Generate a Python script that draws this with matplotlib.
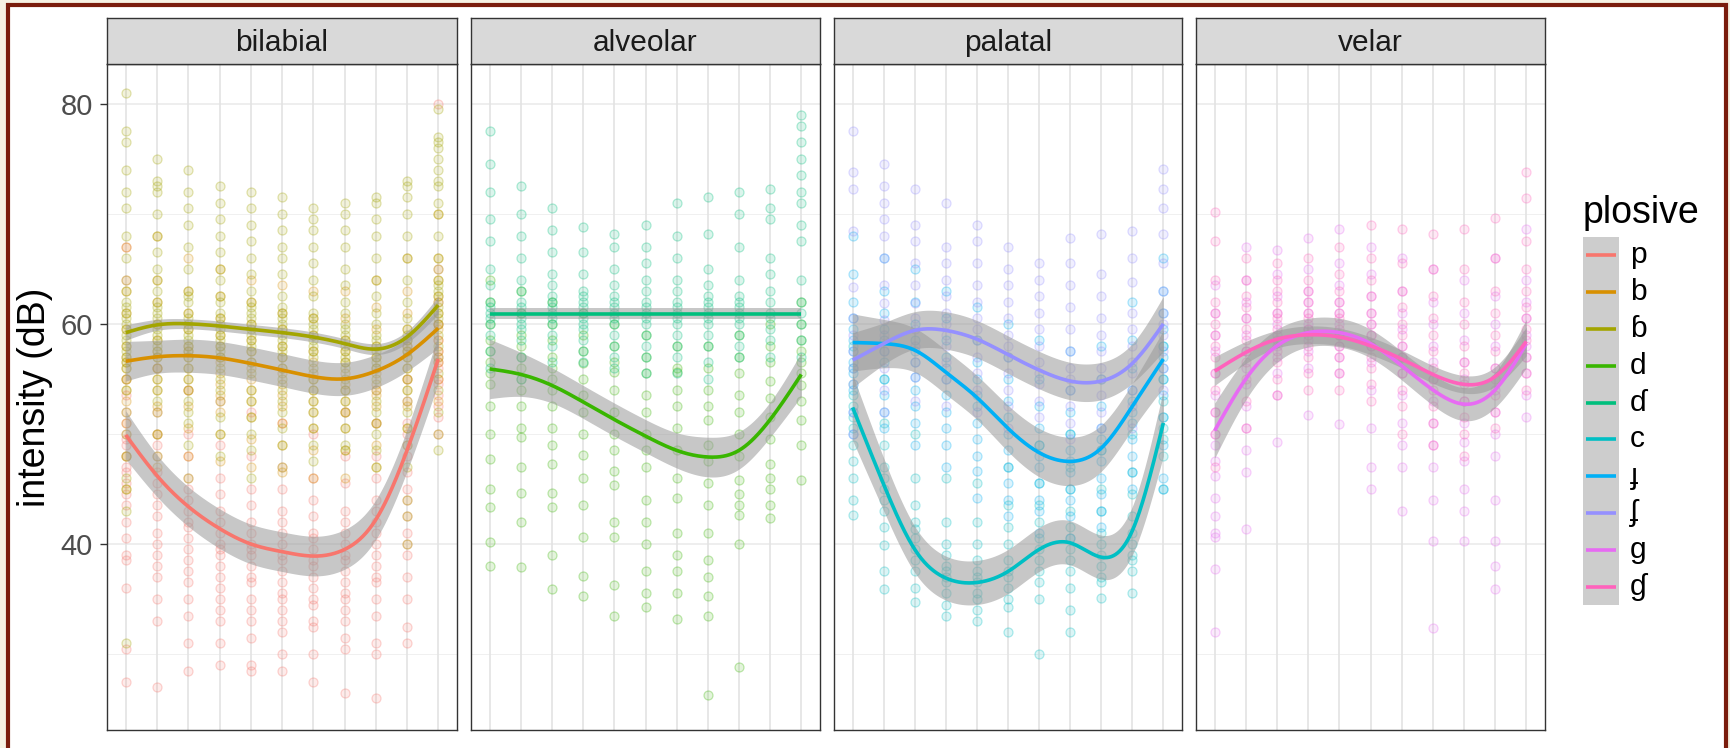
import numpy as np
import matplotlib
matplotlib.use('Agg')
import matplotlib.pyplot as plt
from matplotlib.colors import to_rgba
from matplotlib.patches import Rectangle

plt.rcParams['font.family'] = ['Liberation Sans', 'DejaVu Sans']

# 11 measurement points along the closure, one column of dots per point
positions = np.arange(11)
places = ['bilabial', 'alveolar', 'palatal', 'velar']
plosives = ['p', 'b', 'ɓ', 'd', 'ɗ', 'c', 'ɟ', 'ʄ', 'g', 'ɠ']
colors = ['#F8766D', '#D89000', '#A3A500', '#39B600', '#00BF7D',
          '#00BFC4', '#00B0F6', '#9590FF', '#E76BF3', '#FF62BC']
panel_of = {'p': 0, 'b': 0, 'ɓ': 0, 'd': 1, 'ɗ': 1,
            'c': 2, 'ɟ': 2, 'ʄ': 2, 'g': 3, 'ɠ': 3}

fit_p = [49.9, 46.2, 43.4, 41.4, 40.0, 39.3, 38.9, 39.5, 42.2, 48.5, 56.8]
fit_b = [56.6, 57.0, 57.1, 56.9, 56.4, 55.8, 55.2, 55.0, 55.7, 57.2, 59.6]
fit_bb = [59.2, 59.9, 60.0, 59.8, 59.5, 59.2, 58.8, 58.2, 57.7, 58.8, 61.7]
fit_d = [55.9, 55.4, 54.4, 52.9, 51.3, 49.8, 48.5, 47.9, 48.5, 51.3, 55.4]
fit_dd = [60.9] * 11
fit_c = [52.4, 45.4, 39.5, 36.9, 36.5, 37.5, 39.5, 40.1, 38.8, 41.2, 51.0]
fit_j = [58.3, 58.2, 57.6, 55.6, 53.3, 50.5, 48.3, 47.5, 48.7, 52.5, 56.8]
fit_jj = [56.7, 58.2, 59.4, 59.4, 58.6, 57.2, 55.8, 54.8, 54.8, 56.4, 60.0]
fit_g = [50.3, 55.0, 58.0, 59.2, 59.2, 58.2, 56.2, 54.0, 52.7, 54.0, 58.2]
fit_gg = [55.7, 57.4, 58.6, 59.0, 58.8, 58.0, 56.8, 55.4, 54.5, 55.2, 58.4]

se_p = [2.2, 1.9, 1.8, 1.8, 1.8, 1.8, 1.8, 1.8, 1.8, 1.9, 2.2]
se_b = [1.8, 1.5, 1.5, 1.5, 1.5, 1.5, 1.5, 1.5, 1.5, 1.5, 1.8]
se_bb = [0.7, 0.5, 0.45, 0.45, 0.45, 0.45, 0.45, 0.45, 0.5, 0.55, 0.8]
se_d = [2.7, 2.0, 1.6, 1.5, 1.5, 1.5, 1.6, 1.8, 1.7, 1.6, 2.0]
se_dd = [0.5] * 11
se_c = [3.0, 2.4, 2.1, 2.0, 2.0, 2.0, 2.0, 2.0, 2.0, 2.2, 3.0]
se_j = [2.6, 2.2, 2.0, 2.0, 2.0, 2.1, 2.2, 2.2, 2.1, 2.1, 2.6]
se_jj = [2.5, 1.9, 1.7, 1.7, 1.7, 1.7, 1.7, 1.7, 1.7, 1.8, 2.5]
se_g = [2.5, 1.9, 1.5, 1.3, 1.3, 1.3, 1.3, 1.4, 1.5, 1.6, 2.2]
se_gg = [1.3, 1.0, 0.8, 0.8, 0.8, 0.8, 0.8, 0.8, 0.8, 0.9, 1.3]

# individual tokens (dB), one list per measurement point
pts_p = [[55, 53.5, 52, 51, 50, 49.5, 49, 48, 47, 46.5, 45.5, 44.5, 43.5, 42, 40.5, 39, 38.5, 36, 30.5, 27.5, 64, 67],
         [56, 52, 50, 49, 48, 46.5, 45.5, 44.5, 43.5, 42.5, 41, 40, 39, 38, 37, 35, 33, 27],
         [54, 50, 48, 46, 45, 44, 43, 42, 41.5, 40.5, 39.5, 38.5, 37.5, 36.5, 35, 33.5, 31, 28.5],
         [53, 49, 46, 44.5, 43, 42, 41, 40, 39.5, 39, 38, 37, 36, 35, 34, 33, 31, 29],
         [52, 48, 45, 43.5, 42, 41, 40, 39.5, 39, 38, 37, 36.5, 35, 34, 33, 31.5, 29, 28.5],
         [51, 47, 45, 43, 42, 41, 40, 39, 38.5, 37.5, 36.5, 35.5, 35, 34, 33, 32, 30, 28.5],
         [50, 46, 44, 42.5, 41, 40.5, 39.5, 38.5, 38, 37, 36, 35, 34.5, 33, 32.5, 30, 27.5],
         [52, 48, 45.5, 43, 42, 41, 40, 39, 38.5, 37.5, 36.5, 35.5, 35, 34, 33, 31.5, 30.5, 26.5],
         [54, 51, 48, 46, 44, 43, 42, 41, 40, 39, 38, 37, 36.5, 35, 33.5, 31, 30, 26],
         [58, 55, 53, 51, 50, 49, 48, 46.5, 45, 44, 42.5, 41, 40, 39, 37, 35, 32.5, 31],
         [65, 62, 60, 58.5, 57.5, 57, 56.5, 56, 55, 54.5, 53.5, 52.5, 51.5, 50, 80]]
pts_b = [[67, 63, 61, 59.5, 58, 57, 56.5, 56, 55, 54, 53, 51, 48, 45],
         [68, 64, 62, 60, 58.5, 57.5, 57, 56, 55, 54, 52.5, 50, 47],
         [66, 63, 61, 59.5, 58, 57.5, 57, 56, 55, 54, 52.5, 50.5, 48],
         [65, 62.5, 60.5, 59, 58, 57, 56.5, 55.5, 54.5, 53.5, 52, 50, 47.5],
         [64, 62, 60, 58.5, 57.5, 56.5, 56, 55, 54, 53, 51.5, 49.5, 47],
         [63.5, 61, 59.5, 58, 57, 56, 55.5, 54.5, 53.5, 52.5, 51, 49, 46.5],
         [63, 60.5, 59, 57.5, 56.5, 55.5, 55, 54, 53, 52, 50.5, 48.5, 46],
         [63, 60.5, 58.5, 57.5, 56.5, 55.5, 54.5, 54, 53, 52, 50.5, 48.5, 46],
         [64, 61.5, 59.5, 58, 57, 56, 55.5, 54.5, 53.5, 52.5, 51, 49, 47],
         [66, 63, 61, 59.5, 58.5, 57.5, 57, 56, 55, 54, 52.5, 50.5],
         [70, 66, 64, 62.5, 61, 60, 59.5, 58.5, 57.5, 56.5, 55, 53]]
pts_bb = [[81, 77.5, 76.5, 74, 72, 70.5, 68, 66, 64, 63, 62, 61.5, 61, 60.5, 60, 59.5, 59, 58.5, 58, 57.5, 57, 56.5, 56, 55, 54, 52, 50, 48, 46, 45, 43, 31],
          [75, 73, 72.5, 72, 70, 68, 66.5, 65, 64, 63, 62, 61.5, 61, 60.5, 60, 59.5, 59, 58.5, 58, 57.5, 57, 56, 55, 54, 53, 52, 50, 48],
          [74, 72, 70.5, 69, 67, 65, 63, 62.5, 62, 61, 60.5, 60, 59.5, 59, 58.5, 58, 57.5, 57, 56, 55, 54, 53, 52, 51, 49, 46],
          [72.5, 71, 69.5, 68, 66.5, 65, 64, 62.5, 62, 61, 60.5, 60, 59.5, 59, 58.5, 58, 57.5, 57, 56, 55, 54, 53, 51.5, 50, 48],
          [72, 70.5, 69, 67.5, 66, 64.5, 63, 62, 61.5, 61, 60.5, 60, 59.5, 59, 58.5, 58, 57.5, 56.5, 55.5, 54, 53, 51.5, 50, 48.5, 46],
          [71.5, 70, 68.5, 67, 66, 64.5, 62.5, 61.5, 61, 60.5, 60, 59.5, 59, 58.5, 58, 57.5, 57, 56, 55, 54, 53, 52, 50.5, 49, 47],
          [70.5, 69.5, 68.5, 67, 65.5, 64, 62.5, 61, 60.5, 60, 59.5, 59, 58.5, 58, 57.5, 57, 56, 55, 54, 53, 52, 50.5, 49, 47.5],
          [71, 70, 68.5, 67, 65, 63.5, 62, 61, 60, 59.5, 59, 58.5, 58, 57.5, 57, 56.5, 56, 55, 54, 53, 52, 50.5, 49, 48.5],
          [71.5, 71, 69.5, 68, 66, 64, 62.5, 61, 60, 59, 58.5, 58, 57.5, 57, 56.5, 56, 55, 54, 53, 52, 51, 50, 48.5, 47],
          [73, 72.5, 71.5, 70, 68, 66, 64, 62, 60.5, 59.5, 59, 58.5, 58, 57.5, 57, 56, 55, 54, 53, 52, 50.5, 49, 47, 44, 42.5, 40],
          [79.5, 77, 76.5, 76, 75, 74, 73, 72.5, 71, 70, 68, 66, 65, 64, 63.5, 63, 62.5, 62, 61.5, 61, 60.5, 60, 59, 58, 57, 55.5, 54, 52, 50, 48.5]]
pts_d = [[64, 62, 60, 58.5, 57.5, 56.5, 55.5, 54.5, 52.5, 50, 47.7, 45, 43.4, 40.2, 38],
         [63, 61, 59, 58, 57, 56, 55, 54, 52.5, 50.5, 49.7, 47, 44.6, 42, 37.9],
         [62, 60, 58.5, 57, 56, 55, 54, 52.5, 50.5, 49, 47.3, 44.6, 43.4, 39, 35.9],
         [61, 59, 57.5, 56.4, 55, 53.5, 52, 50, 48.1, 46, 43.5, 40.6, 37.1, 35.3],
         [60, 58, 56.5, 55.6, 54, 52, 50, 48.5, 46.6, 45.4, 42, 40.6, 36.3, 33.5],
         [59, 57, 55.5, 53.5, 52, 50, 48.5, 47, 44, 42, 40, 37.5, 35.5, 34.3],
         [58, 56, 55.6, 54, 52.5, 50.5, 48.5, 46, 44.2, 41, 39, 37.5, 35.5, 33.2],
         [58, 56, 54, 52.5, 51.3, 49, 47.5, 45.5, 43.5, 41, 38.5, 37, 35.3, 33.5, 26.3],
         [59, 57, 55.5, 53.5, 52, 50, 48, 45.8, 44.5, 43.5, 42.6, 40, 28.8],
         [60, 58, 56.5, 54.8, 53.3, 51.5, 49.5, 47.3, 46, 45, 43.5, 42.4],
         [62, 60, 58.5, 57.5, 56.5, 55.5, 54.4, 53, 51.3, 49, 45.8]]
pts_dd = [[77.5, 74.5, 72, 69.5, 67.5, 65, 63.5, 62, 61.5, 61, 60.5, 60, 59, 57.5, 56],
          [72.5, 70, 68, 66, 64, 63, 62, 61.5, 61, 60.5, 60, 59.5, 58.5, 57, 55],
          [70.5, 68.5, 66.5, 64.5, 63.5, 62.5, 62, 61.5, 61, 60.5, 60, 59, 58, 56.5],
          [68.8, 66.5, 64.5, 63, 62.5, 62, 61.5, 61, 60.5, 60, 59.5, 58.5, 57.5, 56.5],
          [68.2, 67, 65, 63.5, 62.5, 62, 61.5, 61, 60.5, 60, 59, 58, 57, 56],
          [69, 67, 65.5, 64, 63, 62, 61.5, 61, 60.5, 60, 59, 58, 57, 55.5],
          [71, 68, 66, 64, 63, 62, 61.5, 61, 60.5, 60, 59, 58, 57, 55.5],
          [71.5, 68.2, 65, 63.5, 62.5, 62, 61.5, 61, 60.5, 60, 59, 58, 56.5, 55],
          [72, 70, 67, 64, 62.5, 62, 61.5, 61, 60.5, 60, 59, 58, 57],
          [72.2, 70.5, 69.5, 66, 64.5, 63, 62, 61, 60.5, 59.5, 58.5, 57],
          [79, 78, 76.5, 75, 73.5, 72, 71, 69, 67.5, 64, 62, 61, 60, 58.5, 57]]
pts_c = [[58, 56, 54.5, 53.5, 52.5, 51.5, 50.5, 49, 47.5, 46, 44, 42.6],
         [55, 51, 49, 47, 46, 45, 44, 43, 41.5, 39.9, 37.5, 35.9],
         [50, 46, 43.5, 42, 41.4, 40.5, 39.5, 38.5, 37.5, 36, 34.7],
         [46, 42, 40, 39, 38, 37.5, 37, 36.5, 35.5, 34.5, 33.5],
         [45.5, 42, 40, 38.5, 37.5, 37, 36.5, 35.5, 35, 34, 33],
         [47, 43.5, 41.5, 40, 38.5, 37.5, 37, 36, 35, 34.3, 32],
         [49, 45.5, 43.5, 42, 40.5, 39.5, 38.5, 37.5, 36.5, 35, 30],
         [50, 47, 45, 43, 41.5, 40.5, 39.5, 38.5, 37.5, 36, 34, 32],
         [48.5, 45, 43, 41, 40, 39, 38, 37, 36.5, 35.1],
         [50, 46.5, 44.5, 42.5, 41, 40, 39, 38.5, 37.5, 35.5],
         [58, 55, 53, 51.5, 50.5, 49.5, 48, 45]]
pts_j = [[68, 64.5, 62, 60.5, 59.5, 58.5, 57.5, 56.5, 55.5, 54, 52, 50],
         [66, 63, 61, 59.5, 58.5, 57.5, 56.5, 55, 53.5, 52, 50.5],
         [65, 62, 60, 58.5, 57.5, 56.5, 55.2, 54, 52.5, 51, 49],
         [63, 60.5, 58.5, 57, 56, 55, 53.5, 52, 50.5, 49, 47],
         [61.5, 58.5, 56.5, 55, 53.5, 52.5, 51, 49.5, 48, 46.6, 44.2],
         [60, 57, 55, 53, 51.5, 50, 48.5, 47, 45.5, 44, 42.5],
         [58.5, 55, 52.5, 50.5, 49, 48, 47, 45.5, 44, 43, 41],
         [57.5, 54, 52, 50, 48.5, 47.5, 46.5, 45, 44, 42.5, 40.5],
         [58, 55, 52.5, 50.5, 49.5, 48.5, 47.5, 46, 44.5, 43, 41.5],
         [62, 58.5, 56, 54, 53, 52, 51, 49.5, 48, 46.5, 45],
         [66, 63, 61, 59.5, 58, 57, 56, 55, 53.5, 51.5, 49, 46, 45]]
pts_jj = [[77.5, 73.8, 72.2, 68.4, 63.3, 60.5, 59, 57.5, 56, 54.5, 52, 50],
          [74.5, 72.5, 71, 69.5, 68, 66, 63.5, 61.9, 60.3, 59, 57.5, 56, 54, 52],
          [72.2, 69, 67.5, 65.5, 63.5, 61.9, 60.5, 59.5, 58, 56.5, 55.2, 53],
          [71, 67, 65.5, 64, 62.5, 61, 60, 59, 58, 56.5, 55, 52.5],
          [69, 67.5, 65.5, 63.5, 62, 60.5, 59.5, 58.5, 57, 55.5, 54, 52],
          [67, 65, 63.5, 62, 60.5, 59, 58, 57, 55.5, 54, 52.5, 50.5],
          [65.5, 64, 62.5, 61, 59.5, 58, 56.5, 55.5, 54.5, 53, 51.5],
          [67.8, 65.5, 63.5, 61.5, 59.5, 57.5, 56, 55, 54, 52.5, 51, 49.5],
          [68.2, 64.5, 62.5, 60.5, 59, 57.5, 56, 55, 53.5, 52, 50.5],
          [68.4, 66, 63.8, 61, 59.5, 58, 56.5, 55.5, 54, 52.5, 50.5],
          [74.1, 72.2, 70.5, 68.2, 65.5, 63, 61, 60, 59, 57.5, 56, 54]]
pts_g = [[63.5, 61, 59, 57.5, 55.5, 53.5, 52, 50, 49, 47.5, 46.2, 44.2, 42.5, 41, 40.6, 37.7, 32],
         [67, 64, 62, 60.5, 59, 57.5, 56, 54.5, 52.5, 50.5, 48.5, 46.5, 41.4],
         [66.7, 64.5, 62.5, 61, 60, 59, 58, 57, 55.5, 53.5, 49.3],
         [67.8, 65, 63, 62, 61, 60, 59.5, 58.5, 57.5, 56, 51.7],
         [68.6, 65.5, 63.5, 62, 61, 60, 59, 58, 57, 55.5, 50.9],
         [67, 64.5, 62.5, 61, 60, 59, 58, 56.5, 54, 50.5, 47, 45],
         [66, 63, 61, 59.5, 58, 57, 55.5, 53.5, 51, 49, 47, 43],
         [65, 62, 60, 58, 56.5, 55, 53, 51, 49, 47, 44, 40.3, 32.4],
         [64, 61, 58.5, 56.5, 55, 53, 51, 49.3, 47.5, 45, 43, 40.3],
         [66, 62.5, 60, 58, 56, 54, 52, 50, 48, 44, 40.3, 38, 35.9],
         [68.6, 64, 62, 60.5, 59, 58, 57, 55.5, 53.5, 51.5]]
pts_gg = [[70.2, 67.5, 64, 62, 61, 60, 59, 58, 57, 55.5, 54, 52, 50, 47],
          [66, 64, 62.5, 61.5, 60.5, 59.5, 58.5, 57.5, 56.5, 55, 53, 50.5],
          [65.5, 64, 63, 62, 61, 60.5, 59.5, 58.5, 57.5, 56.5, 55, 53.5],
          [66, 64, 63, 62, 61, 60.5, 59.5, 59, 58, 57, 55.5, 54],
          [67, 64.5, 63, 62, 61, 60.5, 59.5, 59, 58, 57, 55.5, 54],
          [69, 66, 64, 62.5, 61, 60, 59, 58, 57, 56, 54.5, 53],
          [68.6, 65.5, 63, 61.5, 60, 59, 58, 57, 55.5, 54, 52.5, 50],
          [68.2, 65, 62.5, 60.5, 59, 57.5, 56, 55, 54, 52.5, 51, 49],
          [68.6, 65, 62, 60, 58, 56.5, 55.5, 54.5, 53, 51.5, 50, 48],
          [69.6, 66, 63, 61, 59, 57.5, 56, 55, 53.5, 52, 50.5],
          [73.8, 71.4, 67.5, 65, 63, 61.5, 60.5, 59.5, 58.5, 57, 55.5, 54]]

fits = [fit_p, fit_b, fit_bb, fit_d, fit_dd, fit_c, fit_j, fit_jj, fit_g, fit_gg]
ses = [se_p, se_b, se_bb, se_d, se_dd, se_c, se_j, se_jj, se_g, se_gg]
points = [pts_p, pts_b, pts_bb, pts_d, pts_dd, pts_c, pts_j, pts_jj, pts_g, pts_gg]


def smooth(vals, xs):
    # natural cubic spline through the read-off values (unit spacing)
    y = np.asarray(vals, float)
    n = len(y)
    A = np.zeros((n, n))
    r = np.zeros(n)
    A[0, 0] = A[-1, -1] = 1
    for i in range(1, n - 1):
        A[i, i - 1:i + 2] = [1, 4, 1]
        r[i] = 6 * (y[i + 1] - 2 * y[i] + y[i - 1])
    M = np.linalg.solve(A, r)
    i = np.clip(np.floor(xs).astype(int), 0, n - 2)
    t = xs - i
    return (M[i] * (1 - t) ** 3 / 6 + M[i + 1] * t ** 3 / 6
            + (y[i] - M[i] / 6) * (1 - t) + (y[i + 1] - M[i + 1] / 6) * t)


W, H = 1730, 748
fig = plt.figure(figsize=(W / 100, H / 100), dpi=100)
fig.patch.set_facecolor('#F6F1E2')
fig.add_artist(Rectangle((8 / W, 1 - 770 / H), 1718 / W, 765 / H, transform=fig.transFigure,
                         facecolor='white', edgecolor='#7A1C0C', lw=3, zorder=-1))

panel_x = [(107, 457), (471, 820), (834, 1182), (1196, 1545)]
top, bottom = 64, 730
strip_top = 18
xs = np.linspace(0, 10, 300)

for k, (x0, x1) in enumerate(panel_x):
    ax = fig.add_axes([x0 / W, 1 - bottom / H, (x1 - x0) / W, (bottom - top) / H])
    ax.set_xlim(-0.6, 10.6)
    ax.set_ylim(23.1, 83.6)
    for v in [40, 60, 80]:
        ax.axhline(v, color='#EBEBEB', lw=1.2, zorder=0)
    for v in [30, 50, 70]:
        ax.axhline(v, color='#F0F0F0', lw=0.7, zorder=0)
    for v in positions:
        ax.axvline(v, color='#E3E3E3', lw=1.2, zorder=0)

    members = [i for i, name in enumerate(plosives) if panel_of[name] == k]
    for i in members:
        for pos, col in zip(positions, points[i]):
            ax.scatter([pos] * len(col), col, s=42, facecolors=[to_rgba(colors[i], 0.14)],
                       edgecolors=[to_rgba(colors[i], 0.3)], linewidths=0.9, zorder=1)
    for i in members:
        mid = smooth(fits[i], xs)
        lo = smooth(np.subtract(fits[i], ses[i]), xs)
        hi = smooth(np.add(fits[i], ses[i]), xs)
        ax.fill_between(xs, lo, hi, color='#999999', alpha=0.55, lw=0, zorder=2)
        ax.plot(xs, mid, color=colors[i], lw=2.6, zorder=3, solid_capstyle='butt')

    ax.set_xticks([])
    ax.set_yticks([40, 60, 80])
    if k == 0:
        ax.tick_params(axis='y', length=5, width=1, color='#333333', pad=5,
                       labelsize=21, labelcolor='#4D4D4D')
    else:
        ax.tick_params(axis='y', length=0, labelleft=False)
    for sp in ax.spines.values():
        sp.set_color('#333333')
        sp.set_linewidth(1)

    st = fig.add_axes([x0 / W, 1 - top / H, (x1 - x0) / W, (top - strip_top) / H])
    st.set_facecolor('#D9D9D9')
    st.set_xticks([])
    st.set_yticks([])
    for sp in st.spines.values():
        sp.set_color('#333333')
        sp.set_linewidth(1)
    st.text(0.5, 0.45, places[k], ha='center', va='center', fontsize=21.5,
            color='#1A1A1A', transform=st.transAxes)

fig.text(35 / W, 1 - 397 / H, 'intensity (dB)', rotation=90, ha='center', va='center',
         fontsize=27, color='black')

# legend drawn by hand
fig.text(1583 / W, 1 - 213 / H, 'plosive', ha='left', va='center', fontsize=27, color='black')
key_top, key_h = 237, 36.8
lg = fig.add_axes([1583 / W, 1 - (key_top + 10 * key_h) / H, 36 / W, 10 * key_h / H])
lg.set_xlim(0, 1)
lg.set_ylim(10, 0)
lg.axis('off')
lg.add_patch(Rectangle((0, 0), 1, 10, facecolor='#CDCDCD', lw=0))
for i, name in enumerate(plosives):
    lg.plot([0.08, 0.92], [i + 0.5, i + 0.5], color=colors[i], lw=2.6, solid_capstyle='butt')
    fig.text(1630 / W, 1 - (key_top + key_h * (i + 0.5)) / H, name, ha='left', va='center',
             fontsize=21.5, color='black')

fig.savefig('out.png', dpi=100, facecolor=fig.get_facecolor())
